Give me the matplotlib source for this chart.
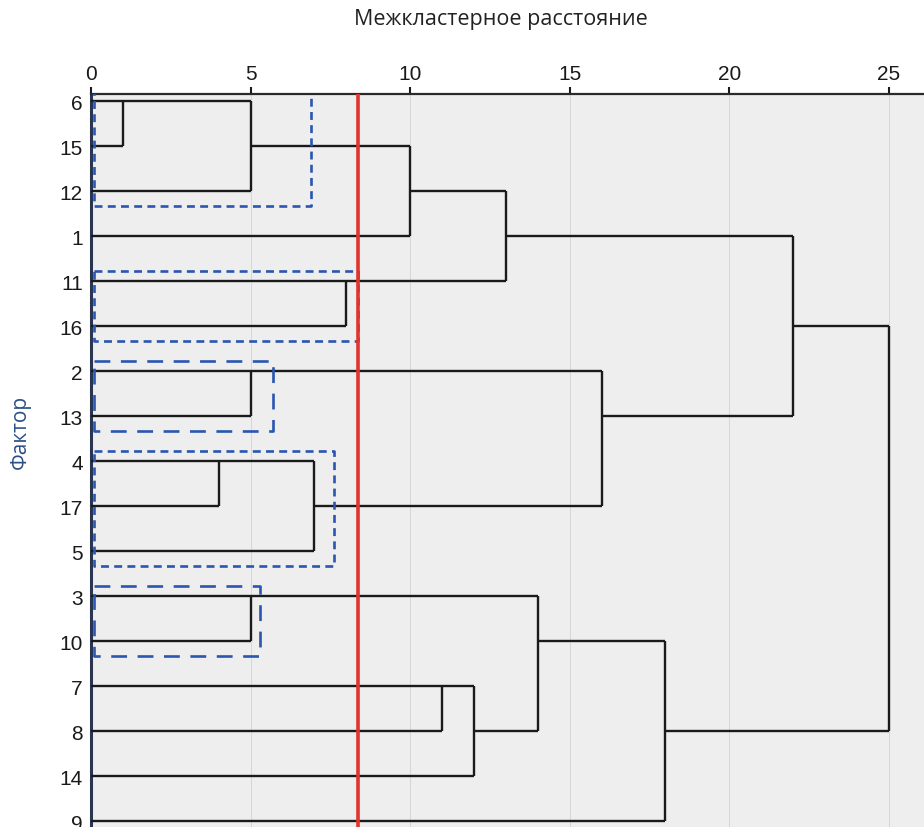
import matplotlib
matplotlib.use('Agg')
import matplotlib.pyplot as plt
import numpy as np

# leaf order (top to bottom)
leaves = ['6', '15', '12', '1', '11', '16', '2', '13', '4', '17', '5',
          '3', '10', '7', '8', '14', '9']
# merges: ids < 17 are leaves, new cluster ids start at 17
merge_a = [0, 17, 18, 4, 19, 6, 8, 23, 22, 21, 11, 13, 28, 27, 30, 26]
merge_b = [1, 2, 3, 5, 20, 7, 9, 10, 24, 25, 12, 14, 15, 29, 16, 31]
merge_dist = [1, 5, 10, 8, 13, 5, 4, 7, 16, 22, 5, 11, 12, 14, 18, 25]

cut_level = 8.35
# highlighted groups: first row, last row, right edge of box
box_first = [0, 4, 6, 8, 11]
box_last = [2, 5, 7, 10, 12]
box_right = [6.9, 8.35, 5.7, 7.6, 5.3]
box_fine = [True, True, False, True, False]

fig = plt.figure(figsize=(9.24, 8.28), dpi=100)
ax = fig.add_axes([0.0985, 0.0, 0.9015, 0.8853])
ax.set_facecolor('#eeeeee')

n = len(leaves)
row = {i: i for i in range(n)}
xpos = {i: 0.0 for i in range(n)}
for k, (a, b, d) in enumerate(zip(merge_a, merge_b, merge_dist)):
    ra, rb = row[a], row[b]
    ax.plot([xpos[a], d], [ra, ra], color='#1a1a1a', lw=1.7, solid_capstyle='butt', zorder=3)
    ax.plot([xpos[b], d], [rb, rb], color='#1a1a1a', lw=1.7, solid_capstyle='butt', zorder=3)
    ax.plot([d, d], [ra, rb], color='#1a1a1a', lw=1.7, solid_capstyle='butt', zorder=3)
    row[n + k] = (ra + rb) // 2
    xpos[n + k] = d

# cut line
ax.axvline(cut_level, color='#e0342c', lw=2.6, zorder=5)

# dashed boxes
for r0, r1, xr, fine in zip(box_first, box_last, box_right, box_fine):
    ls = (0, (3, 2)) if fine else (0, (6, 4))
    y0, y1 = r0 - 0.22, r1 + 0.32
    ax.plot([0.08, xr, xr, 0.08, 0.08], [y0, y0, y1, y1, y0],
            color='#2a55b0', lw=1.9, ls=ls, zorder=4)

ax.set_xlim(0, 26.1)
ax.set_ylim(16.13, -0.16)
ax.set_xticks([0, 5, 10, 15, 20, 25])
ax.set_yticks(range(n))
ax.set_yticklabels(leaves)
ax.xaxis.tick_top()
ax.grid(axis='x', color='#d6d6d6', lw=0.7, zorder=0)
ax.tick_params(axis='x', direction='out', length=5, width=1.5, pad=3,
               labelsize=15, colors='#1a1a1a')
ax.tick_params(axis='y', length=0, pad=6, labelsize=15, colors='#1a1a1a')
for lab in ax.get_xticklabels() + ax.get_yticklabels():
    lab.set_family(['Liberation Sans Narrow', 'Liberation Sans'])

for s in ['right', 'bottom']:
    ax.spines[s].set_visible(False)
ax.spines['top'].set_linewidth(1.6)
ax.spines['top'].set_color('#2a2a2a')
ax.spines['left'].set_linewidth(2.2)
ax.spines['left'].set_color('#2a3550')

fig.text(0.542, 0.976, 'Межкластерное расстояние', ha='center', va='center',
         fontsize=15.5, family='Open Sans', color='#222222')
fig.text(0.022, 0.478, 'Фактор', ha='center', va='center', rotation=90,
         fontsize=15, family='Open Sans', color='#2c4f86')

fig.savefig('out.png', dpi=100)
